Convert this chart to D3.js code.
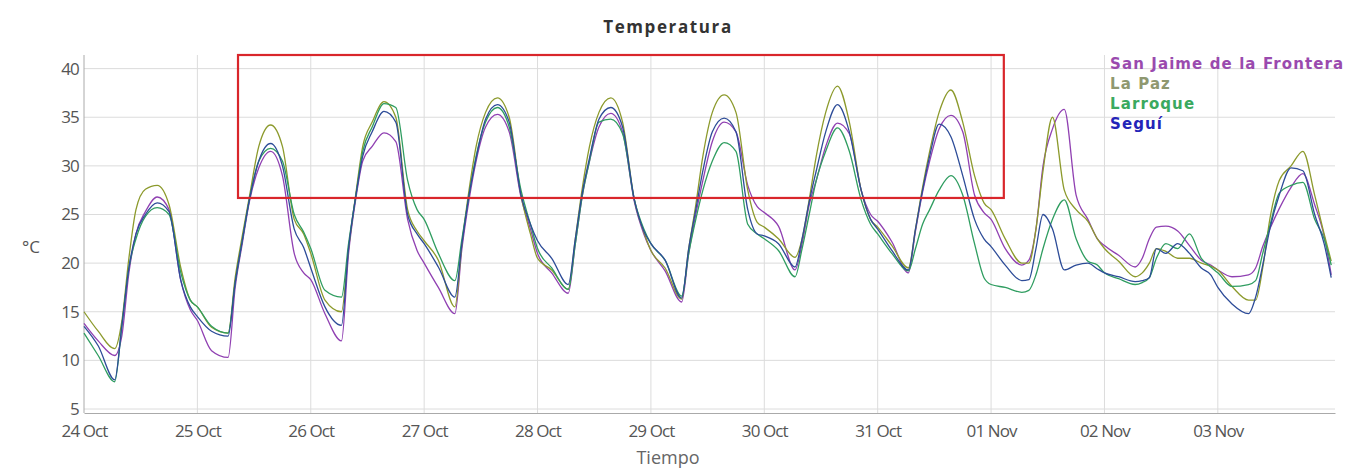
<!DOCTYPE html>
<html><head><meta charset="utf-8">
<script src="https://cdn.jsdelivr.net/npm/d3@7"></script>
<style>
html,body{margin:0;padding:0;background:#fff;}
svg{display:block;}
</style></head>
<body>
<svg id="chart" width="1349" height="468"></svg>
<script>
// ---- DATA ----
const title = "Temperatura";
const xLabel = "Tiempo";
const yLabel = "°C";
const startDate = "2023-10-24T00:00:00";
// hours since 24 Oct 00:00
const hours = [
 0,3,6.5,8,9.5,11,13,15.5,18,20.5,22.5,
 24,27,30.5,32,33.5,35,37,39.5,42,44.5,46.5,
 48,51,54.5,56,57.5,59,61,63.5,66,68.5,70.5,
 72,75,78.5,80,81.5,83,85,87.5,90,92.5,94.5,
 96,99,102.5,104,105.5,107,109,111.5,114,116.5,118.5,
 120,123,126.5,128,129.5,131,133,135.5,138,140.5,142.5,
 144,147,150.5,152,153.5,155,157,159.5,162,164.5,166.5,
 168,171,174.5,176,177.5,179,181,183.5,186,188.5,190.5,
 192,195,198.5,200,201.5,203,205,207.5,210,212.5,214.5,
 216,219,222.5,224,225.5,227,229,231.5,234,236.5,238.5,
 240,243,246.5,248,249.5,251,253,255.5,258,260.5,262.5,264
];
const seriesNames = ["San Jaime de la Frontera","La Paz","Larroque","Seguí"];
const sanJaime = [
 13.8,12,10.5,12.5,19,23,25.3,26.8,25.5,18.2,15.2,
 14.1,11,10.3,17.5,22,26.3,29.8,31.5,29,21,19,
 18.3,14.8,12,21,26.5,30.5,32,33.4,32.5,24.5,21.3,
 20,17.5,14.8,21.5,26.5,30.5,34,35.3,33.5,26.8,23.5,
 21,19,16.9,22,27,30.5,34,35.4,33.5,26.3,23,
 21.3,19.2,16,21,25,28.5,32.5,34.5,33.5,28,25.8,
 25.2,23.8,19.3,22,26,28.5,32,34.4,33.3,27.5,25,
 24.3,22.2,19,23.3,27.3,30.5,33.8,35.2,33.5,27,25.2,
 24.5,21.5,19.8,20.3,23.5,30,33.8,35.8,27,24.5,22.5,
 21.8,20.8,19.6,20.5,22.5,23.7,23.8,23.3,21.8,20.3,19.8,
 19.3,18.6,18.8,19.5,21.7,23.5,25.6,27.8,29.2,26,22.8,18.8
];
const laPaz = [
 15,13,11.2,14,20.5,25.5,27.6,28,26,19.5,16.2,
 15.5,13.4,12.8,18.5,22.8,26.8,32,34.2,32,24.5,23,
 21,16.2,15,21.5,27,32,34.5,36.6,35,25.5,23.3,
 22.3,20.3,15.5,22,27.5,32,35.5,37,35,27,23,
 20.5,19.3,17.3,22.5,27.8,32,35.5,37,34.5,26.5,23.2,
 21.3,19.5,16.3,21.5,26,31,35.5,37.3,35.5,27.5,24.2,
 23.7,22.5,20.6,22.5,26.5,31,35.5,38.2,34.5,27.5,24.5,
 23.7,21.8,19.5,23.5,27.8,31.5,35.5,37.8,34.5,29,26.2,
 25.5,22.5,20,20,23.5,29.5,35,27.5,25.5,24.3,22.5,
 21.5,20.2,18.6,19,20,21.5,21.2,20.5,20.5,20,19.7,
 19.3,17.6,16.2,16.2,19.5,24.5,28.5,30,31.5,27,23,20.2
];
const larroque = [
 12.8,10.5,7.8,13.5,19.5,22.5,24.8,25.7,25,19,16.2,
 15.5,13.5,12.8,18,22.3,26.5,30.5,31.8,30.5,25,23.2,
 21.5,17.2,16.5,22,26.8,31.5,34,36.4,36,28.5,25.5,
 24.5,21,18.2,22.5,27,31,34.5,36,34,27.5,24,
 21.5,19.5,17.3,22,27,30.5,34.5,34.8,33.3,26.5,23.5,
 22,20.3,16.6,21,24.5,27.5,30.5,32.4,31.5,24,23,
 22.5,21.3,18.6,21.5,25,28.5,31.5,33.9,31.5,26.5,24,
 23,21,19.2,21.5,24,25.5,27.5,29,27,22,18.5,
 17.8,17.5,17,17.2,18.8,21.5,24.5,26.5,22.5,20.2,19.8,
 19,18.4,17.8,18,18.5,20.5,22,21.5,23,20.5,19.6,
 19,17.6,17.8,18.2,21,23.8,27.2,28,28.3,24.5,22.5,19.8
];
const segui = [
 13.5,11.5,8,13.5,19.5,23,25,26.2,25.3,18.2,15.5,
 14.5,13,12.5,18,22.3,26.5,30.5,32.3,30,23.5,21.6,
 19.5,15.5,13.6,21.5,26.8,31,33.5,35.6,34.5,25,23,
 22,19.6,16.5,22,27,30.8,34.8,36.3,34.5,27,24,
 22.3,20.5,17.8,22.5,27.3,30.8,34.8,36,34,26.5,23.3,
 22,20.3,16.4,21.5,25.5,29.5,33.5,34.9,33.5,25.5,23,
 22.8,22,19.6,22.5,26.3,29.5,33.5,36.3,33.5,27.5,24.5,
 23.5,21.3,19.3,23.5,27.5,31,34.3,33,29,24.5,22.5,
 21.7,19.8,18.2,18.3,21.5,25,23.5,19.3,19.8,20,19.4,
 19,18.6,18.1,18.2,18.5,21.5,21,22,21,19.5,18.8,
 17.5,15.8,14.8,16.5,19.8,23.5,27,29.8,29.5,25,22,18.5
];
const seriesValues = [sanJaime, laPaz, larroque, segui];
const lineColors = ["#9040b2","#8c9a2c","#2f9d60","#2d4c98"];
const legendColors = ["#9a4aae","#8f9870","#3aa960","#2424b8"];
const yTicks = [5,10,15,20,25,30,35,40];
// highlight box (in data units: hours, °C)
const boxHours = [32.6, 194.7];
const boxTemps = [26.7, 41.4];

// ---- CHART ----
const svg = d3.select("#chart");
const t0 = new Date(startDate);
const toDate = h => new Date(t0.getTime() + h*3600e3);

const x = d3.scaleTime().domain([toDate(0), toDate(264.8)]).range([84, 1335]);
const y = d3.scaleLinear().domain([5, 41.4]).range([409, 55]);
const plotBottom = 413;

const days = d3.timeDay.range(toDate(0), toDate(264));

// gridlines
const grid = svg.append("g");
grid.selectAll("line.v").data(days.slice(1)).join("line")
  .attr("x1", d => x(d)).attr("x2", d => x(d))
  .attr("y1", 55).attr("y2", plotBottom)
  .attr("stroke", "#dcdcdc").attr("stroke-width", 1);
grid.selectAll("line.h").data(yTicks).join("line")
  .attr("x1", 84).attr("x2", 1335)
  .attr("y1", d => y(d)).attr("y2", d => y(d))
  .attr("stroke", "#dcdcdc").attr("stroke-width", 1);

// axes
const xAxis = d3.axisBottom(x).tickValues(days).tickFormat(d3.timeFormat("%d %b")).tickSize(0).tickPadding(12);
const gx = svg.append("g").attr("transform", `translate(0,${plotBottom})`).call(xAxis);
gx.select(".domain").attr("stroke", "#aaa");
gx.selectAll("text").attr("fill", "#555").style("font-family", "'Open Sans', sans-serif").style("font-size", "17px").style("letter-spacing", "-0.9px");

const yAxis = d3.axisLeft(y).tickValues(yTicks).tickSize(0).tickPadding(5);
const gy = svg.append("g").attr("transform", `translate(84,0)`).call(yAxis);
gy.select(".domain").attr("d", `M0,55V${plotBottom}`).attr("stroke", "#aaa");
gy.selectAll("text").attr("fill", "#555").style("font-family", "'Open Sans', sans-serif").style("font-size", "17px").style("letter-spacing", "-0.8px");

// lines
const line = d3.line().x((d, i) => x(toDate(hours[i]))).y(d => y(d)).curve(d3.curveMonotoneX);
svg.append("g").selectAll("path").data(seriesValues).join("path")
  .attr("d", d => line(d))
  .attr("fill", "none")
  .attr("stroke", (d, i) => lineColors[i])
  .attr("stroke-width", 1.3)
  .attr("stroke-linejoin", "round");

// highlight box
svg.append("rect")
  .attr("x", x(toDate(boxHours[0])))
  .attr("y", y(boxTemps[1]))
  .attr("width", x(toDate(boxHours[1])) - x(toDate(boxHours[0])))
  .attr("height", y(boxTemps[0]) - y(boxTemps[1]))
  .attr("fill", "none").attr("stroke", "#d9262b").attr("stroke-width", 2.2);

// title
svg.append("text").attr("x", 668).attr("y", 33).attr("text-anchor", "middle")
  .style("font-family", "'Open Sans', sans-serif").style("font-weight", "bold")
  .style("font-size", "17px").style("letter-spacing", "1.6px").attr("fill", "#333").text(title);

// axis titles
svg.append("text").attr("x", 31).attr("y", 253).attr("text-anchor", "middle")
  .style("font-family", "'Open Sans', sans-serif").style("font-size", "17px").attr("fill", "#555").text(yLabel);
svg.append("text").attr("x", 668).attr("y", 464).attr("text-anchor", "middle")
  .style("font-family", "'Open Sans', sans-serif").style("font-size", "18px").attr("fill", "#666").text(xLabel);

// legend
svg.append("g").selectAll("text").data(seriesNames).join("text")
  .attr("x", 1110).attr("y", (d, i) => 69 + i*20)
  .style("font-family", "'DejaVu Sans', sans-serif").style("font-weight", "bold")
  .style("font-size", "15px").style("letter-spacing", "1.1px")
  .attr("fill", (d, i) => legendColors[i]).text(d => d);
</script>
</body></html>
